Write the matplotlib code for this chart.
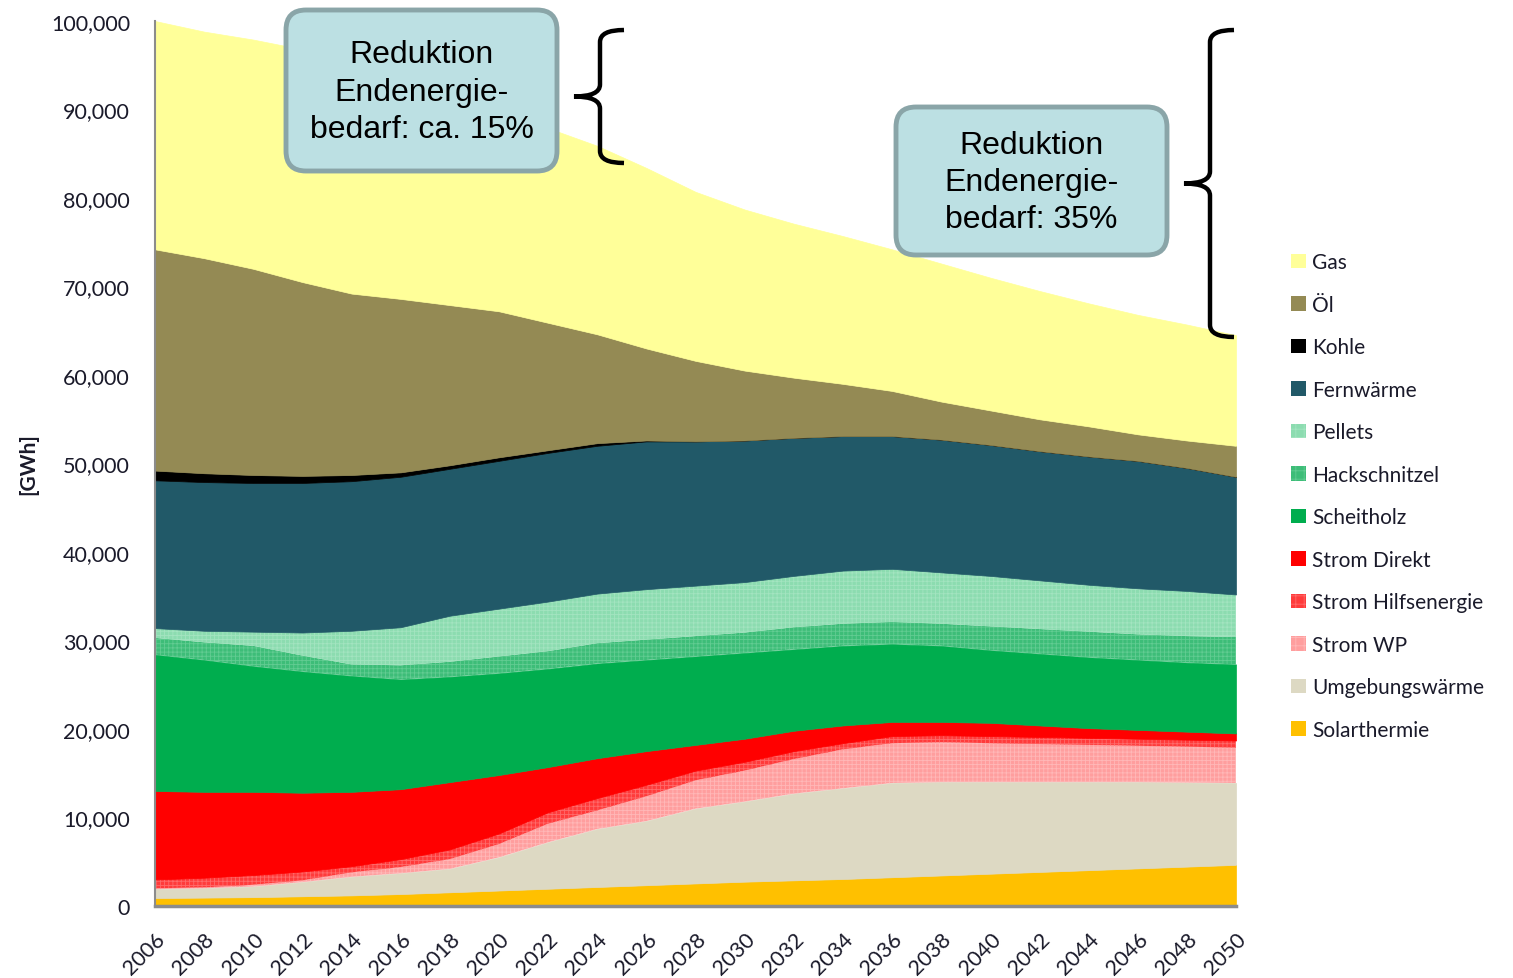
import numpy as np
import matplotlib
matplotlib.use("Agg")
import matplotlib.pyplot as plt
import matplotlib.transforms as mtransforms
from matplotlib.patches import FancyBboxPatch, Patch, PathPatch
from matplotlib.path import Path
from matplotlib.ticker import FuncFormatter

plt.rcParams['font.family'] = ['Lato', 'DejaVu Sans']
plt.rcParams['hatch.linewidth'] = 0.6

# years (every 2nd year)
years = list(range(2006, 2051, 2))

# values in GWh (stacked bottom -> top)
solarthermie = [900, 950, 1000, 1100, 1200, 1350, 1550, 1750, 1950, 2150, 2350, 2550,
                2750, 2900, 3050, 3250, 3450, 3650, 3850, 4050, 4250, 4450, 4650]
umgebung = [1000, 1050, 1200, 1600, 2100, 2350, 2650, 3750, 5250, 6550, 7250, 8450,
            9050, 9800, 10250, 10650, 10550, 10350, 10150, 9950, 9750, 9500, 9250]
strom_wp = [100, 100, 200, 200, 500, 700, 1100, 1500, 2100, 2100, 2800, 3200,
            3500, 3900, 4400, 4500, 4500, 4400, 4300, 4200, 4100, 4050, 4000]
strom_hilf = [1000, 1100, 1100, 1000, 700, 900, 1100, 1200, 1300, 1400, 1300, 1100,
              1000, 900, 700, 800, 800, 800, 800, 800, 800, 800, 800]
strom_direkt = [10000, 9700, 9400, 8900, 8400, 7900, 7600, 6600, 5100, 4500, 3800, 2900,
                2600, 2300, 2000, 1600, 1500, 1500, 1300, 1100, 1000, 900, 800]
scheitholz = [15400, 14900, 14200, 13700, 13100, 12400, 11900, 11500, 11100, 10700, 10300, 10000,
              9700, 9200, 9000, 8800, 8600, 8200, 8100, 8000, 7900, 7800, 7800]
hackschnitzel = [1900, 2000, 2300, 1800, 1300, 1600, 1700, 1900, 2000, 2300, 2300, 2300,
                 2300, 2500, 2500, 2500, 2500, 2700, 2800, 2900, 2900, 3000, 3100]
pellets = [1100, 1300, 1600, 2600, 3800, 4300, 5200, 5400, 5600, 5600, 5700, 5700,
           5700, 5800, 6000, 6000, 5800, 5700, 5500, 5300, 5200, 5100, 4800]
fernwaerme = [16700, 16800, 16800, 16900, 16900, 17000, 16600, 16700, 16800, 16700, 16700, 16300,
              16000, 15600, 15200, 15000, 15000, 14800, 14600, 14500, 14400, 13900, 13300]
kohle = [1100, 1000, 900, 800, 700, 500, 400, 400, 300, 300, 100, 0,
         0, 0, 0, 0, 0, 0, 0, 0, 0, 0, 0]
oel = [25000, 24300, 23300, 21900, 20500, 19600, 18100, 16500, 14400, 12300, 10400, 9100,
       7900, 6800, 5900, 5100, 4300, 3900, 3600, 3400, 3000, 3100, 3500]
gas = [25800, 25600, 25900, 26300, 26000, 25000, 24000, 22800, 22000, 21300, 20400, 19100,
       18200, 17400, 16700, 16000, 15600, 15000, 14500, 13900, 13500, 13100, 12500]

labels = ['Solarthermie', 'Umgebungswärme', 'Strom WP', 'Strom Hilfsenergie', 'Strom Direkt',
          'Scheitholz', 'Hackschnitzel', 'Pellets', 'Fernwärme', 'Kohle', 'Öl', 'Gas']
series = [solarthermie, umgebung, strom_wp, strom_hilf, strom_direkt, scheitholz,
          hackschnitzel, pellets, fernwaerme, kohle, oel, gas]
colors = ['#ffc000', '#ddd9c3', '#ff9e9e', '#ff3b3b', '#ff0000', '#00ad4e',
          '#3dbd78', '#8cdcb0', '#215968', '#000000', '#948a54', '#ffff99']
hatches = [None, None, '++++', '++++', None, None, '++++', '++++', None, None, None, None]
hatch_cols = [None, None, '#ffb8b8', '#ff6a6a', None, None, '#62cc92', '#a3e4c0',
              None, None, None, None]

W, H = 1513, 979
fig = plt.figure(figsize=(W / 100, H / 100), dpi=100)
ax = fig.add_axes([155 / W, 1 - 907 / H, (1236 - 155) / W, (907 - 22) / H])

x = np.array(years)
base = np.zeros(len(years))
handles = []
for lab, vals, col, hat, hcol in zip(labels, series, colors, hatches, hatch_cols):
    top = base + np.array(vals)
    if hat:
        ax.fill_between(x, base, top, facecolor=col, edgecolor=hcol, hatch=hat, linewidth=0)
        handles.append(Patch(facecolor=col, edgecolor=hcol, hatch='++', linewidth=0, label=lab))
    else:
        ax.fill_between(x, base, top, facecolor=col, edgecolor=col, linewidth=0.5)
        handles.append(Patch(facecolor=col, edgecolor='none', label=lab))
    base = top

ax.set_xlim(2006, 2050)
ax.set_ylim(0, 100000)
ax.set_xticks(years)
ax.set_xticklabels([str(y) for y in years], rotation=45, ha='right', rotation_mode='anchor')
ax.set_yticks(range(0, 100001, 10000))
ax.yaxis.set_major_formatter(FuncFormatter(lambda v, p: f'{int(v):,}'))
ax.tick_params(length=0, labelsize=15.5, labelcolor='#1a1a2a')
ax.tick_params(axis='y', pad=18)
ax.tick_params(axis='x', pad=16)
for s in ['top', 'right']:
    ax.spines[s].set_visible(False)
ax.spines['left'].set_color('#8c8c8c')
ax.spines['left'].set_linewidth(1.5)
ax.spines['bottom'].set_color('#8c8c8c')
ax.spines['bottom'].set_linewidth(2.5)
ax.set_ylabel('[GWh]', fontsize=15, fontweight='bold', color='#1a1a2a')
ax.yaxis.set_label_coords(-0.108, 0.5)

leg = fig.legend(handles=handles[::-1], loc='upper left', bbox_to_anchor=(1283 / W, 1 - 245 / H),
                 frameon=False, fontsize=15, handlelength=0.7, handleheight=0.7,
                 handletextpad=0.3, labelspacing=1.08, borderaxespad=0)
for t in leg.get_texts():
    t.set_color('#1a1a2a')

# pixel-coordinate transform for the annotations
px = mtransforms.Affine2D().scale(1 / W, -1 / H).translate(0, 1) + fig.transFigure


def callout(x0, y0, x1, y1, text):
    box = FancyBboxPatch((x0, y0), x1 - x0, y1 - y0,
                         boxstyle='round,pad=0,rounding_size=20',
                         facecolor='#bce0e3', edgecolor='#8aa5a8', linewidth=3.5,
                         transform=px, zorder=5)
    fig.patches.append(box)
    fig.text((x0 + x1) / 2, (y0 + y1) / 2 + 1, text, transform=px, ha='center', va='center',
             fontsize=23, family='Liberation Sans', linespacing=1.32, zorder=6)


def brace(xb, y0, y1, tip):
    mid = (y0 + y1) / 2
    hook = 24
    r = 12
    verts = [(xb + hook, y0), (xb, y0), (xb, y0 + r),
             (xb, mid - r), (xb, mid), (tip, mid),
             (xb, mid), (xb, mid + r),
             (xb, y1 - r), (xb, y1), (xb + hook, y1)]
    codes = [Path.MOVETO, Path.CURVE3, Path.CURVE3,
             Path.LINETO, Path.CURVE3, Path.CURVE3,
             Path.CURVE3, Path.CURVE3,
             Path.LINETO, Path.CURVE3, Path.CURVE3]
    fig.patches.append(PathPatch(Path(verts, codes), facecolor='none', edgecolor='black',
                                 linewidth=3.2, transform=px, zorder=5))


callout(286, 11, 557, 172, 'Reduktion\nEndenergie-\nbedarf: ca. 15%')
callout(896, 108, 1167, 256, 'Reduktion\nEndenergie-\nbedarf: 35%')
brace(600, 31, 164, 574)
brace(1210, 31, 338, 1184)

fig.savefig('out.png', dpi=100)
